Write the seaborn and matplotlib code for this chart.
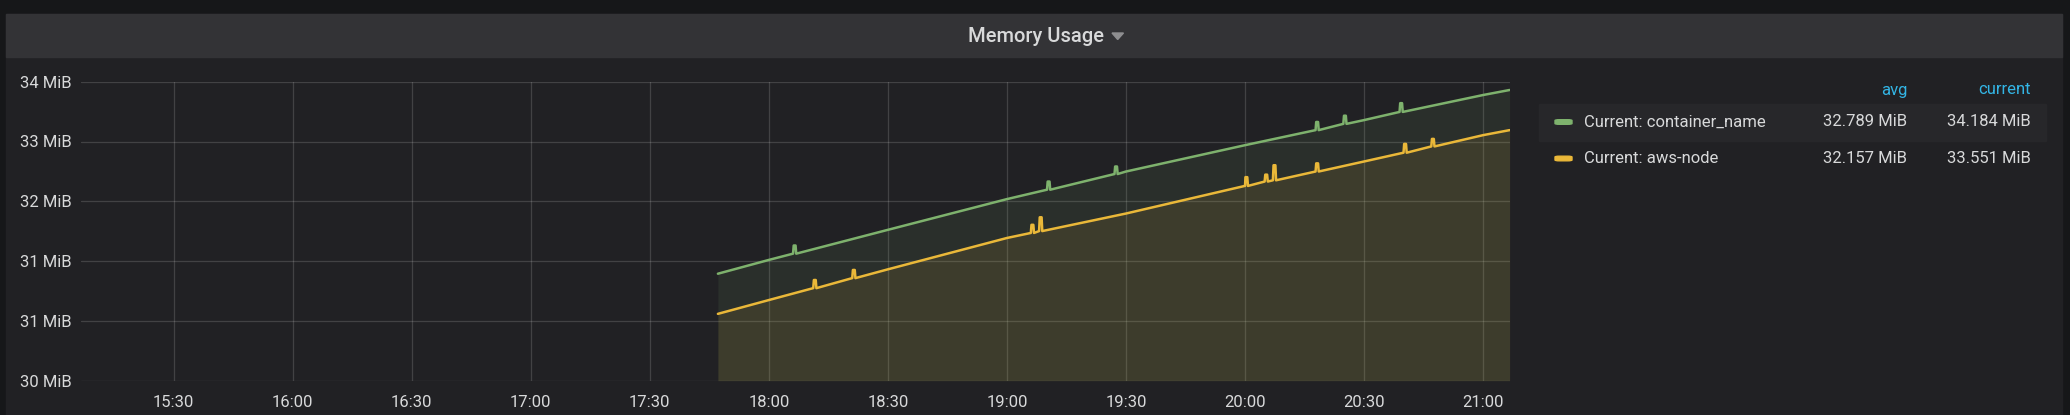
import matplotlib
matplotlib.use("Agg")
import matplotlib.pyplot as plt
import matplotlib.dates as mdates
from matplotlib.patches import Rectangle, Polygon, FancyBboxPatch
from matplotlib import font_manager
import seaborn as sns
import pandas as pd

# ---------------- data ----------------
DAY = "2021-01-01 "
anchor_times = ["17:47:10", "18:00", "18:30", "19:00", "19:30", "20:00", "20:30", "21:00", "21:06:40"]

green_vals = [31.27, 31.49, 31.97, 32.46, 32.90, 33.32, 33.72, 34.12, 34.20]
green_spike_times = ["18:06:30", "19:10:30", "19:27:30", "20:18:10", "20:25:10", "20:39:20"]
green_spike_base = [31.59, 32.61, 32.86, 33.56, 33.66, 33.85]
green_spike_top = [31.72, 32.74, 32.98, 33.69, 33.79, 33.99]

yellow_vals = [30.63, 30.85, 31.34, 31.84, 32.23, 32.67, 33.06, 33.48, 33.56]
yellow_spike_times = ["18:11:35", "18:21:25", "19:06:25", "19:08:30", "20:00:20",
                      "20:05:20", "20:07:25", "20:18:10", "20:40:20", "20:47:20"]
yellow_spike_base = [31.04, 31.20, 31.92, 31.95, 32.67, 32.74, 32.76, 32.90, 33.20, 33.30]
yellow_spike_top = [31.17, 31.33, 32.05, 32.17, 32.81, 32.85, 33.00, 33.03, 33.34, 33.42]

series_names = ["Current: container_name", "Current: aws-node"]
series_colors = ["#7eb26d", "#eab839"]
legend_avg = ["32.789 MiB", "32.157 MiB"]
legend_current = ["34.184 MiB", "33.551 MiB"]

ytick_bytes = [31e6, 32e6, 33e6, 34e6, 35e6, 36e6]
ytick_labels = ["30 MiB", "31 MiB", "31 MiB", "32 MiB", "33 MiB", "34 MiB"]
x_start, x_end = "15:06:40", "21:06:40"
title = "Memory Usage"

# ---------------- build point table ----------------
def build(name, vals, s_times, s_base, s_top):
    rows = []
    for t, v in zip(anchor_times, vals):
        rows.append((pd.Timestamp(DAY + t), v))
    for t, b, top in zip(s_times, s_base, s_top):
        c = pd.Timestamp(DAY + t)
        rows.append((c - pd.Timedelta(seconds=24), b))
        rows.append((c - pd.Timedelta(seconds=14), top))
        rows.append((c + pd.Timedelta(seconds=14), top))
        rows.append((c + pd.Timedelta(seconds=24), b))
    df = pd.DataFrame(rows, columns=["time", "value"]).sort_values("time")
    df["series"] = name
    return df

df = pd.concat([
    build(series_names[0], green_vals, green_spike_times, green_spike_base, green_spike_top),
    build(series_names[1], yellow_vals, yellow_spike_times, yellow_spike_base, yellow_spike_top),
], ignore_index=True)

# ---------------- style ----------------
W, H = 2070, 415
sns.set_style("dark")
plt.rcParams["font.family"] = ["Roboto", "DejaVu Sans"]
TEXT = "#d8d9da"
FS = 12

fig = plt.figure(figsize=(W / 100, H / 100), dpi=100)
fig.patch.set_facecolor("#161719")

def fx(x):
    return x / W

def fy(y):
    return 1 - y / H

# panel body and title bar (behind the axes)
fig.patches.append(Rectangle((fx(6), fy(415)), fx(2062) - fx(6), fy(14) - fy(415),
                             transform=fig.transFigure, color="#212124", zorder=-5))
fig.patches.append(Rectangle((fx(6), fy(57)), fx(2062) - fx(6), fy(14) - fy(57),
                             transform=fig.transFigure, color="#333336", zorder=-4))

medium = [f.name for f in font_manager.fontManager.ttflist if f.name == "Roboto Medium"]
title_family = ["Roboto Medium", "Roboto", "DejaVu Sans"] if medium else ["Roboto", "DejaVu Sans"]
fig.text(fx(1036), fy(36), title, ha="center", va="center", fontsize=14.5,
         color=TEXT, fontweight=500, family=title_family)
fig.patches.append(Polygon([(fx(1112), fy(33)), (fx(1123.5), fy(33)), (fx(1117.7), fy(39.5))],
                           closed=True, transform=fig.transFigure, color="#8e8e90", zorder=2))

# plot area
left, right, top, bottom = 81, 1509.6, 81.7, 380.7
ax = fig.add_axes([fx(left), fy(bottom), fx(right) - fx(left), fy(top) - fy(bottom)])
ax.set_zorder(1)
ax.set_facecolor("#212124")

ymin, ymax = ytick_bytes[0] / 2**20, ytick_bytes[-1] / 2**20
for name, color in zip(series_names, series_colors):
    d = df[df["series"] == name]
    ax.fill_between(d["time"], d["value"], ymin, color=color, alpha=0.1, lw=0, zorder=1)

sns.lineplot(data=df, x="time", y="value", hue="series", palette=series_colors,
             hue_order=series_names, estimator=None, sort=True, legend=False,
             linewidth=1.8, ax=ax, zorder=3)

ax.set_xlim(pd.Timestamp(DAY + x_start), pd.Timestamp(DAY + x_end))
ax.set_ylim(ymin, ymax)
ax.set_yticks([b / 2**20 for b in ytick_bytes])
ax.set_yticklabels(ytick_labels)
ax.xaxis.set_major_locator(mdates.MinuteLocator(byminute=[0, 30]))
ax.xaxis.set_major_formatter(mdates.DateFormatter("%H:%M"))
ax.set_xlabel("")
ax.set_ylabel("")
ax.grid(True, color="#ffffff", alpha=0.15, linewidth=0.9, zorder=0)
ax.set_axisbelow(True)
for s in ax.spines.values():
    s.set_visible(False)
ax.tick_params(axis="both", length=0, colors=TEXT, labelsize=FS)
ax.tick_params(axis="x", pad=10)
ax.tick_params(axis="y", pad=6.5)

# legend table
fig.text(fx(1907), fy(90), "avg", ha="right", va="center", fontsize=FS, color="#33b5e5")
fig.text(fx(2031), fy(90), "current", ha="right", va="center", fontsize=FS, color="#33b5e5")
fig.patches.append(Rectangle((fx(1539), fy(141)), fx(2046) - fx(1539), fy(104) - fy(141),
                             transform=fig.transFigure, color="#27272a", zorder=1))
row_y = [122, 158.5]
for i, name in enumerate(series_names):
    y = row_y[i]
    fig.patches.append(FancyBboxPatch((fx(1555), fy(y + 2.3)), fx(1572) - fx(1555), fy(y - 2.3) - fy(y + 2.3),
                                      boxstyle="round,pad=0,rounding_size=0.002",
                                      transform=fig.transFigure, color=series_colors[i], zorder=3))
    fig.text(fx(1584), fy(y), name, ha="left", va="center", fontsize=FS, color=TEXT, zorder=4)
    fig.text(fx(1907), fy(y), legend_avg[i], ha="right", va="center", fontsize=FS, color=TEXT, zorder=4)
    fig.text(fx(2031), fy(y), legend_current[i], ha="right", va="center", fontsize=FS, color=TEXT, zorder=4)

fig.savefig("out.png", dpi=100, facecolor=fig.get_facecolor())
